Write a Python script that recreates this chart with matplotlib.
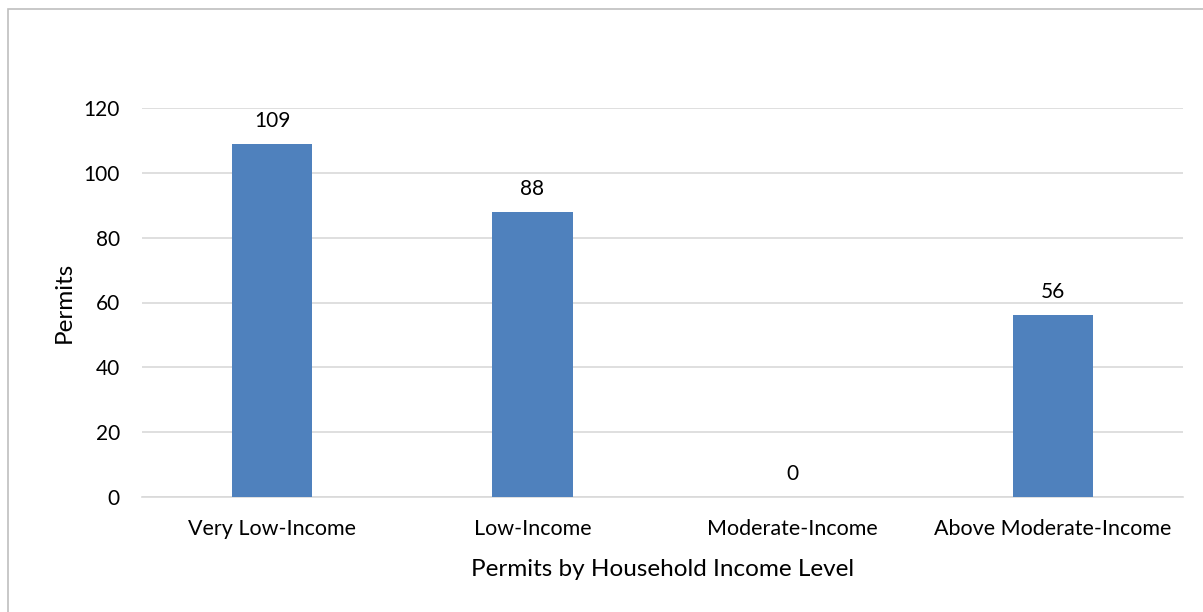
import numpy as np
import matplotlib.pyplot as plt
from matplotlib.patches import Rectangle

categories = ['Very Low-Income', 'Low-Income', 'Moderate-Income', 'Above Moderate-Income']
permits = [109, 88, 0, 56]
yticks = [0, 20, 40, 60, 80, 100, 120]

plt.rcParams['font.family'] = ['Lato', 'DejaVu Sans']

fig = plt.figure(figsize=(12.03, 6.12), dpi=100)
# outer chart border (only top/left visible in the reference)
fig.patches.append(Rectangle((8 / 1203, -0.1), 1.2, 1 - 9 / 612 + 0.1,
                             transform=fig.transFigure, fill=False,
                             edgecolor='#BFBFBF', linewidth=1.2))

ax = fig.add_axes([142 / 1203, 1 - 497 / 612, (1183 - 142) / 1203, (497 - 108) / 612])
x = np.arange(len(categories))
bars = ax.bar(x, permits, width=0.31, color='#4F81BD', zorder=3)

for xi, v in zip(x, permits):
    ax.text(xi, v + 4, str(v), ha='center', va='bottom', fontsize=15, color='#000000')

ax.set_xlim(-0.5, len(categories) - 0.5)
ax.set_ylim(0, 120)
ax.set_yticks(yticks)
ax.set_xticks(x)
ax.set_xticklabels(categories, fontsize=15.5)
ax.tick_params(axis='y', labelsize=15, length=0, pad=16)
ax.tick_params(axis='x', length=0, pad=16)
ax.grid(axis='y', color='#D9D9D9', linewidth=1.2, zorder=0)
for s in ['top', 'right', 'left']:
    ax.spines[s].set_visible(False)
ax.spines['bottom'].set_color('#D9D9D9')
ax.spines['bottom'].set_linewidth(1.2)

ax.set_ylabel('Permits', fontsize=17.5, labelpad=6)
ax.set_xlabel('Permits by Household Income Level', fontsize=17.5, labelpad=14)

fig.savefig('out.png', dpi=100)
